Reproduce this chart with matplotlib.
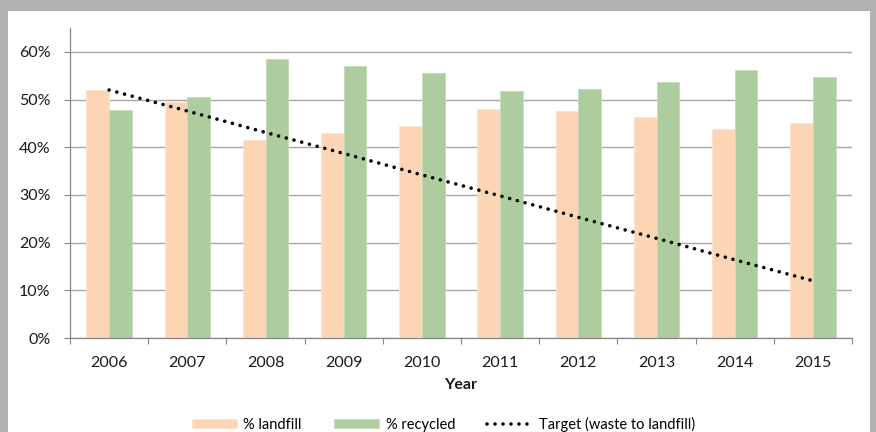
import matplotlib.pyplot as plt
import matplotlib.ticker as mticker
from matplotlib.patches import Rectangle
import numpy as np

plt.rcParams['font.family'] = ['Lato', 'DejaVu Sans']

# values
years = ['2006', '2007', '2008', '2009', '2010', '2011', '2012', '2013', '2014', '2015']
landfill = [0.519, 0.494, 0.416, 0.429, 0.445, 0.481, 0.477, 0.464, 0.438, 0.451]
recycled = [0.479, 0.506, 0.584, 0.571, 0.555, 0.518, 0.522, 0.536, 0.562, 0.548]
target = [0.520, 0.476, 0.431, 0.387, 0.342, 0.298, 0.253, 0.209, 0.164, 0.120]

W, H = 876, 432
fig = plt.figure(figsize=(W / 100, H / 100), dpi=100)
fig.patch.set_facecolor('#b2b2b2')
# white chart area inside the grey frame
fig.add_artist(Rectangle((8 / W, 0), (870 - 8) / W, 1 - 11 / H,
                         transform=fig.transFigure, facecolor='white',
                         edgecolor='none', zorder=0))

ax = fig.add_axes([70 / W, (H - 338) / H, (852 - 70) / W, (338 - 28) / H])
ax.set_facecolor('none')

x = np.arange(len(years))
bw = 0.29
b1 = ax.bar(x - bw / 2, landfill, bw, color='#fcd5b5', edgecolor='#fde3cf',
            linewidth=0.6, label='% landfill', zorder=2)
b2 = ax.bar(x + bw / 2, recycled, bw, color='#adcd9f', edgecolor='#c5dcbb',
            linewidth=0.6, label='% recycled', zorder=2)
ln, = ax.plot(x, target, color='black', linewidth=2.6, linestyle=(0, (0.01, 2.2)),
              dash_capstyle='round', label='Target (waste to landfill)', zorder=3)

ax.set_xlim(-0.5, len(years) - 0.5)
ax.set_ylim(0, 0.65)
ax.yaxis.set_major_locator(mticker.MultipleLocator(0.1))
ax.yaxis.set_major_formatter(mticker.FuncFormatter(lambda v, p: f'{v * 100:.0f}%'))
ax.yaxis.grid(True, color='#a6a6a6', linewidth=1.0, zorder=1)
ax.set_axisbelow(True)

ax.set_xticks(x)
ax.set_xticklabels(years)
ax.set_xticks(np.arange(-0.5, len(years)), minor=True)
ax.tick_params(axis='x', which='major', length=0, pad=13, labelsize=11.5,
               labelcolor='#1a1a1a')
ax.tick_params(axis='x', which='minor', length=4, width=0.8, color='#868686')
ax.tick_params(axis='y', length=4, width=0.8, color='#868686', pad=10,
               labelsize=11.5, labelcolor='#1a1a1a')

for s in ['top', 'right']:
    ax.spines[s].set_visible(False)
for s in ['left', 'bottom']:
    ax.spines[s].set_color('#868686')
    ax.spines[s].set_linewidth(0.9)

ax.set_xlabel('Year', fontsize=11.5, fontweight='bold', labelpad=6,
              color='#1a1a1a')

fig.legend([b1, b2, ln], ['% landfill', '% recycled', 'Target (waste to landfill)'],
           loc='center', bbox_to_anchor=(0.506, 1 - 424.5 / H), ncol=3,
           frameon=False, fontsize=10.5, handlelength=3.1, handleheight=0.55,
           handletextpad=0.45, columnspacing=2.2)

fig.savefig('out.png', dpi=100, facecolor=fig.get_facecolor())
